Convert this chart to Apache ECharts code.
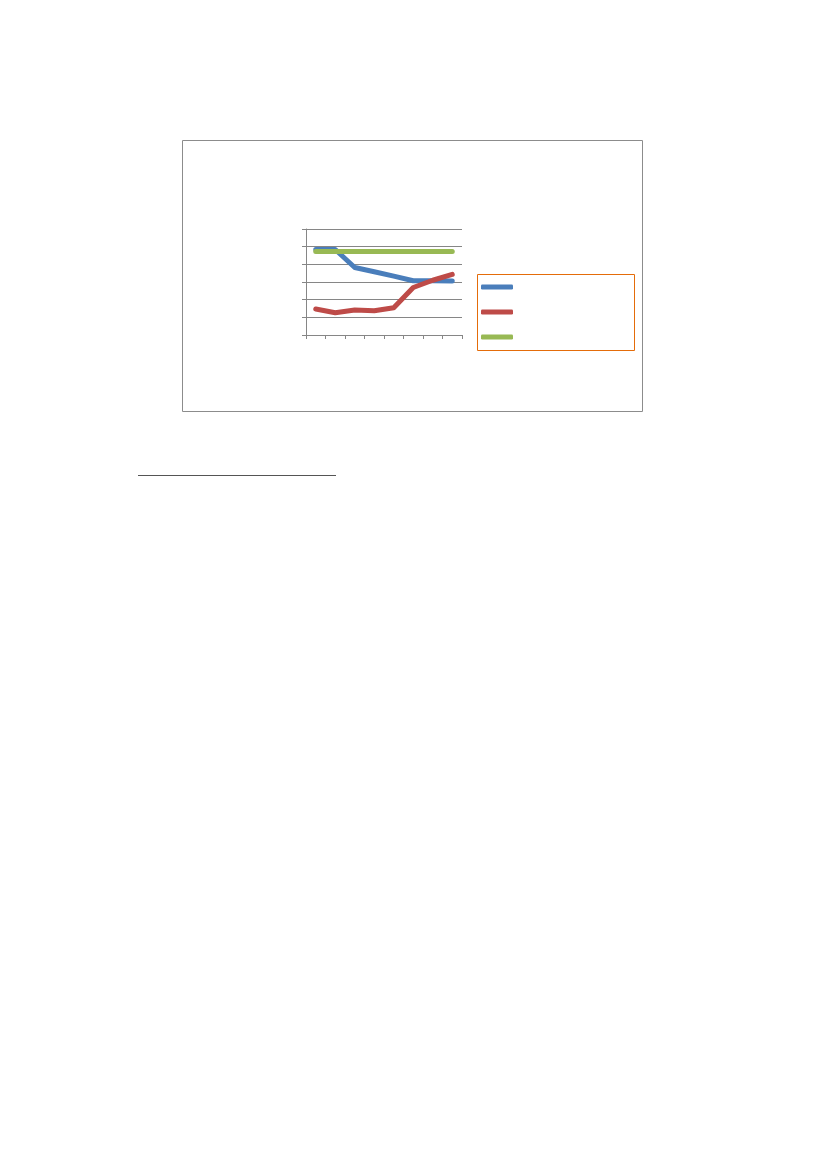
<!DOCTYPE html>
<html>
<head>
<meta charset="utf-8">
<script src="https://cdn.jsdelivr.net/npm/echarts@6/dist/echarts.min.js"></script>
<style>
html,body{margin:0;padding:0;background:#fff;}
#c{width:827px;height:1169px;}
</style>
</head>
<body>
<div id="c"></div>
<script>
var categories = ['1','2','3','4','5','6','7','8'];
var seriesNames = ['Series 1','Series 2','Series 3'];
var blueValues = [4.84, 4.84, 3.82, 3.58, 3.33, 3.07, 3.07, 3.05];
var redValues = [1.47, 1.26, 1.41, 1.37, 1.54, 2.69, 3.10, 3.43];
var greenValues = [4.73, 4.73, 4.73, 4.73, 4.73, 4.73, 4.73, 4.73];
var yTicks = [0, 1, 2, 3, 4, 5, 6];

var chart = echarts.init(document.getElementById('c'));
var colors = ['#4A7EBB', '#BE4B48', '#98B954'];
function mk(name, data, color){
  return {
    name: name, type: 'line', data: data, symbol: 'none',
    lineStyle: {width: 5, color: color, cap: 'round', join: 'round'},
    itemStyle: {color: color},
    animation: false
  };
}
chart.setOption({
  animation: false,
  color: colors,
  grid: {left: 306, top: 229, width: 156, height: 106, containLabel: false},
  xAxis: {
    type: 'category', data: categories, boundaryGap: true,
    axisLine: {lineStyle: {color: '#868686', width: 1}},
    axisTick: {show: true, interval: 0, length: 4, lineStyle: {color: '#868686'}},
    axisLabel: {show: false}
  },
  yAxis: {
    type: 'value', min: yTicks[0], max: yTicks[yTicks.length-1], interval: 1,
    axisLine: {show: true, lineStyle: {color: '#868686', width: 1}},
    axisTick: {show: true, length: 4, lineStyle: {color: '#868686'}},
    axisLabel: {show: false},
    splitLine: {show: true, lineStyle: {color: '#868686', width: 1}}
  },
  legend: {
    orient: 'vertical', left: 476, top: 279.5,
    itemWidth: 32, itemHeight: 5, itemGap: 20,
    icon: 'roundRect',
    formatter: function(){ return ''; },
    textStyle: {fontSize: 1, lineHeight: 1},
    selectedMode: false,
    data: seriesNames
  },
  graphic: [
    {type: 'rect', shape: {x: 182.5, y: 140.5, width: 460, height: 271}, style: {fill: 'none', stroke: '#8c8c8c', lineWidth: 1}, silent: true, z: -1},
    {type: 'rect', shape: {x: 477.5, y: 274.5, width: 157, height: 76}, style: {fill: 'none', stroke: '#E46C0A', lineWidth: 1}, silent: true},
    {type: 'line', shape: {x1: 138, y1: 475.5, x2: 336, y2: 475.5}, style: {stroke: '#555555', lineWidth: 1}, silent: true}
  ],
  series: [
    mk(seriesNames[0], blueValues, colors[0]),
    mk(seriesNames[1], redValues, colors[1]),
    mk(seriesNames[2], greenValues, colors[2])
  ]
});
</script>
</body>
</html>
